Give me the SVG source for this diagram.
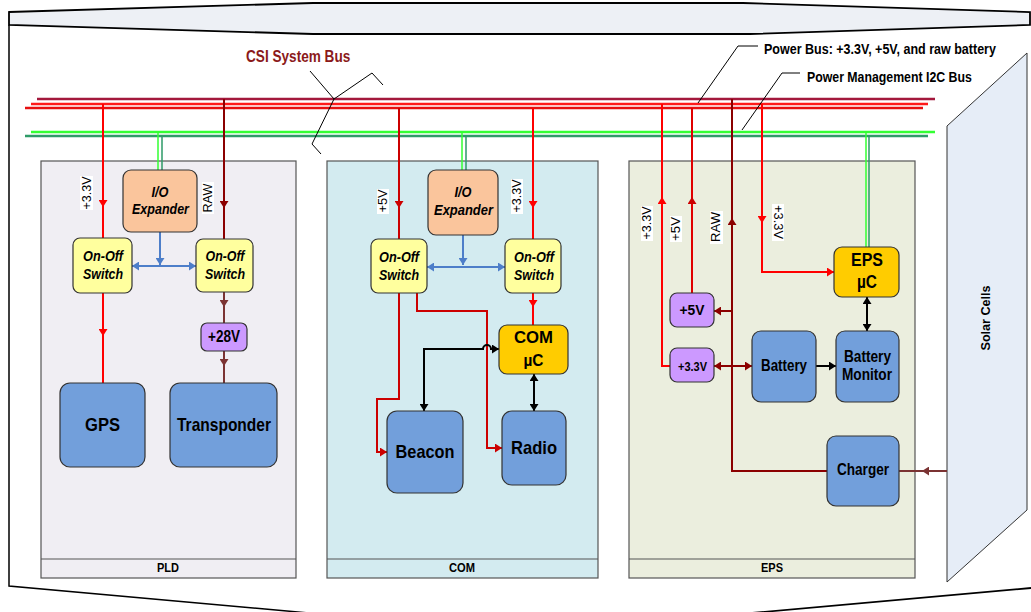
<svg xmlns="http://www.w3.org/2000/svg" width="1031" height="612" viewBox="0 0 1031 612">
<style>
.t{font-family:"Liberation Sans",Arial,sans-serif;font-weight:bold;fill:#000;text-anchor:middle}
.ts{font-family:"Liberation Sans",Arial,sans-serif;font-weight:bold;fill:#000;text-anchor:start}
.ti{font-style:italic}
.lbl{font-family:"Liberation Sans",Arial,sans-serif;font-size:12px;fill:#000;text-anchor:middle}
.panel{stroke:#555;stroke-width:1.2}
.nd{stroke:#333;stroke-width:1.2}
.peach{fill:#FAC59C}
.yel{fill:#FFFF9E}
.pur{fill:#CC99FF}
.blu{fill:#729FDB}
.gold{fill:#FFCC00}
.ln{fill:none;stroke-width:2}
.bus{fill:none;stroke-width:2.6}
.lead{fill:none;stroke:#000;stroke-width:1}
.wbg{fill:#fff}
</style>
<defs>
<marker id="aR" viewBox="0 0 7 9" refX="7" refY="4.5" markerWidth="7" markerHeight="9" markerUnits="userSpaceOnUse" orient="auto-start-reverse"><path d="M0,0 L7,4.5 L0,9 z" fill="#FF0000"/></marker>
<marker id="aD" viewBox="0 0 7 9" refX="7" refY="4.5" markerWidth="7" markerHeight="9" markerUnits="userSpaceOnUse" orient="auto-start-reverse"><path d="M0,0 L7,4.5 L0,9 z" fill="#CC0000"/></marker>
<marker id="aM" viewBox="0 0 7 9" refX="7" refY="4.5" markerWidth="7" markerHeight="9" markerUnits="userSpaceOnUse" orient="auto-start-reverse"><path d="M0,0 L7,4.5 L0,9 z" fill="#8B0000"/></marker>
<marker id="aBr" viewBox="0 0 7 9" refX="7" refY="4.5" markerWidth="7" markerHeight="9" markerUnits="userSpaceOnUse" orient="auto-start-reverse"><path d="M0,0 L7,4.5 L0,9 z" fill="#7B3333"/></marker>
<marker id="aB" viewBox="0 0 7 9" refX="7" refY="4.5" markerWidth="7" markerHeight="9" markerUnits="userSpaceOnUse" orient="auto-start-reverse"><path d="M0,0 L7,4.5 L0,9 z" fill="#4D7EC9"/></marker>
<marker id="aK" viewBox="0 0 7 9" refX="7" refY="4.5" markerWidth="7" markerHeight="9" markerUnits="userSpaceOnUse" orient="auto-start-reverse"><path d="M0,0 L7,4.5 L0,9 z" fill="#000"/></marker>
</defs>
<rect width="1031" height="612" fill="#fff"/>
<g id="frame">
<path d="M9,12 L313,3 L743,3 L1030,12 L1030,25 L750,34 L313,34 L9,25 Z" fill="#EDF0F5" stroke="#000" stroke-width="1.8"/>
<path d="M9,25 V586 L320,614" fill="none" stroke="#000" stroke-width="1.5"/>
<path d="M740,614 L1031,588" fill="none" stroke="#000" stroke-width="1.8"/>
</g>
<g id="solar-cells">
<path d="M947,126 L1027,53 L1027,510 L947,582 Z" fill="#E6EDF7" stroke="#333" stroke-width="1"/>
<text class="t" font-size="12" transform="translate(986,318) rotate(-90)" x="0" y="4" textLength="65" lengthAdjust="spacingAndGlyphs">Solar Cells</text>
</g>
<g id="pld">
<rect class="panel" x="41" y="161" width="255" height="417" fill="#F0EEF3"/>
<line x1="41" y1="559" x2="296" y2="559" stroke="#555" stroke-width="1.2"/>
<text class="t" font-size="12" x="168" y="572" textLength="22" lengthAdjust="spacingAndGlyphs">PLD</text>
</g>
<g id="com">
<rect class="panel" x="327" y="161" width="271" height="417" fill="#D3EBF0"/>
<line x1="327" y1="559" x2="598" y2="559" stroke="#555" stroke-width="1.2"/>
<text class="t" font-size="12" x="462" y="572" textLength="26" lengthAdjust="spacingAndGlyphs">COM</text>
</g>
<g id="eps">
<rect class="panel" x="629" y="161" width="286" height="417" fill="#EBEEDE"/>
<line x1="629" y1="559" x2="915" y2="559" stroke="#555" stroke-width="1.2"/>
<text class="t" font-size="12" x="772" y="572" textLength="22" lengthAdjust="spacingAndGlyphs">EPS</text>
</g>
<g id="connectors">
<path class="bus" d="M37,99 H935" stroke="#A3183C"/>
<path class="bus" d="M31,104 H928" stroke="#FF1A1A"/>
<path class="bus" d="M25,108 H923" stroke="#E61010"/>
<path class="bus" d="M31,132 H935" stroke="#33FF33"/>
<path class="bus" d="M25,136 H928" stroke="#2E9B68"/>
<path d="M158,132 V170 M462,132 V170 M866,132 V247" fill="none" stroke="#33FF33" stroke-width="1.5"/>
<path d="M162,136 V170 M466,136 V170 M869,136 V247" fill="none" stroke="#2E9B68" stroke-width="1.5"/>
<path class="lead" d="M310,71 L334,99" stroke-width="1.6"/>
<path class="lead" d="M334,99 L372,73 L383,85"/>
<path class="lead" d="M334,99 L312,144 L321,154"/>
<path class="lead" d="M758,46 H738 L698,103"/>
<path class="lead" d="M800,73 H782 L742,130"/>
<path class="ln" d="M103,104 V238" stroke="#FF0000"/>
<path class="ln" d="M103,205 V207" stroke="#FF0000" marker-end="url(#aR)"/>
<path class="ln" d="M103,293 V383" stroke="#FF0000"/>
<path class="ln" d="M103,334 V336" stroke="#FF0000" marker-end="url(#aR)"/>
<path class="ln" d="M224,99 V239" stroke="#8B0000"/>
<path class="ln" d="M224,206 V208" stroke="#8B0000" marker-end="url(#aM)"/>
<path class="ln" d="M224,292 V323" stroke="#7B3333"/>
<path class="ln" d="M224,305 V307" stroke="#7B3333" marker-end="url(#aBr)"/>
<path class="ln" d="M224,351 V383" stroke="#7B3333"/>
<path class="ln" d="M224,364 V366" stroke="#7B3333" marker-end="url(#aBr)"/>
<path class="ln" d="M160,232 V265" stroke="#4D7EC9" marker-end="url(#aB)"/>
<path class="ln" d="M132,266 H196" stroke="#4D7EC9" marker-start="url(#aB)" marker-end="url(#aB)"/>
<path class="ln" d="M399,108 V239" stroke="#CC0000"/>
<path class="ln" d="M399,206 V208" stroke="#CC0000" marker-end="url(#aD)"/>
<path class="ln" d="M533,108 V239" stroke="#FF0000"/>
<path class="ln" d="M533,206 V208" stroke="#FF0000" marker-end="url(#aR)"/>
<path class="ln" d="M533,293 V325" stroke="#FF0000"/>
<path class="ln" d="M533,305 V307" stroke="#FF0000" marker-end="url(#aR)"/>
<path class="ln" d="M399,293 V399 H377 V452 H387" stroke="#CC0000" marker-end="url(#aD)"/>
<path class="ln" d="M417,293 V311 H487 V448 H502" stroke="#CC0000" marker-end="url(#aD)"/>
<path class="ln" d="M463,235 V265" stroke="#4D7EC9" marker-end="url(#aB)"/>
<path class="ln" d="M427,267 H505" stroke="#4D7EC9" marker-start="url(#aB)" marker-end="url(#aB)"/>
<path class="ln" d="M424,411 V349 H483 A4,4 0 0 1 491,349 H499" stroke="#000" stroke-width="1.5" marker-start="url(#aK)" marker-end="url(#aK)"/>
<path class="ln" d="M534,374 V411" stroke="#000" stroke-width="1.5" marker-start="url(#aK)" marker-end="url(#aK)"/>
<path class="ln" d="M662,104 V366 H670" stroke="#FF0000"/>
<path class="ln" d="M662,199 V197" stroke="#FF0000" marker-end="url(#aR)"/>
<path class="ln" d="M692,108 V293" stroke="#E00000"/>
<path class="ln" d="M692,199 V197" stroke="#E00000" marker-end="url(#aD)"/>
<path class="ln" d="M732,99 V471 H827" stroke="#8B0000"/>
<path class="ln" d="M732,220 V218" stroke="#8B0000" marker-end="url(#aM)"/>
<path class="ln" d="M732,311 H714" stroke="#8B0000" marker-end="url(#aM)"/>
<path class="ln" d="M714,366 H752" stroke="#8B0000" marker-start="url(#aM)" marker-end="url(#aM)"/>
<path class="ln" d="M762,104 V272 H834" stroke="#FF0000" marker-end="url(#aR)"/>
<path class="ln" d="M762,221 V223" stroke="#FF0000" marker-end="url(#aR)"/>
<path class="ln" d="M867,297 V331" stroke="#000" stroke-width="1.5" marker-start="url(#aK)" marker-end="url(#aK)"/>
<path class="ln" d="M816,366 H836" stroke="#000" stroke-width="1.2" marker-end="url(#aK)"/>
<path class="ln" d="M947,471 H899" stroke="#7B3333"/>
<path class="ln" d="M924,471 H922" stroke="#7B3333" marker-end="url(#aBr)"/>
<rect class="wbg" x="80" y="176" width="13" height="34"/>
<text class="lbl" transform="translate(87,193) rotate(-90)" x="0" y="4" textLength="33" lengthAdjust="spacingAndGlyphs">+3.3V</text>
<rect class="wbg" x="202" y="182" width="12" height="32"/>
<text class="lbl" transform="translate(208,198) rotate(-90)" x="0" y="4" textLength="29" lengthAdjust="spacingAndGlyphs">RAW</text>
<rect class="wbg" x="377" y="189" width="12" height="25"/>
<text class="lbl" transform="translate(383,201) rotate(-90)" x="0" y="4" textLength="23" lengthAdjust="spacingAndGlyphs">+5V</text>
<rect class="wbg" x="511" y="179" width="12" height="35"/>
<text class="lbl" transform="translate(517,196) rotate(-90)" x="0" y="4" textLength="33" lengthAdjust="spacingAndGlyphs">+3.3V</text>
<rect class="wbg" x="641" y="206" width="12" height="35"/>
<text class="lbl" transform="translate(647,223) rotate(-90)" x="0" y="4" textLength="33" lengthAdjust="spacingAndGlyphs">+3.3V</text>
<rect class="wbg" x="670" y="216" width="12" height="26"/>
<text class="lbl" transform="translate(676,229) rotate(-90)" x="0" y="4" textLength="24" lengthAdjust="spacingAndGlyphs">+5V</text>
<rect class="wbg" x="710" y="211" width="13" height="33"/>
<text class="lbl" transform="translate(716,227) rotate(-90)" x="0" y="4" textLength="30" lengthAdjust="spacingAndGlyphs">RAW</text>
<rect class="wbg" x="772" y="204" width="12" height="37"/>
<text class="lbl" transform="translate(778,222) rotate(90)" x="0" y="4" textLength="34" lengthAdjust="spacingAndGlyphs">+3.3V</text>
</g>
<g id="bus-labels">
<text class="ts" font-size="16.5" transform="translate(246,62) scale(0.825,1)" x="0" y="0" style="fill:#8B1A1A">CSI System Bus</text>
<text class="ts" font-size="15" transform="translate(764,54) scale(0.835,1)" x="0" y="0">Power Bus: +3.3V, +5V, and raw battery</text>
<text class="ts" font-size="14.5" transform="translate(807,82) scale(0.85,1)" x="0" y="0">Power Management I2C Bus</text>
</g>
<g id="pld-io-expander">
<rect class="nd peach" x="123" y="170" width="74" height="62" rx="8"/>
<text class="t ti" font-size="14.5" x="160" y="197" textLength="17" lengthAdjust="spacingAndGlyphs">I/O</text>
<text class="t ti" font-size="14.5" x="160.5" y="214" textLength="57" lengthAdjust="spacingAndGlyphs">Expander</text>
</g>
<g id="pld-switch-1">
<rect class="nd yel" x="73" y="238" width="59" height="55" rx="7"/>
<text class="t ti" font-size="14.5" x="103" y="261" textLength="40" lengthAdjust="spacingAndGlyphs">On-Off</text>
<text class="t ti" font-size="14.5" x="103" y="279" textLength="40" lengthAdjust="spacingAndGlyphs">Switch</text>
</g>
<g id="pld-switch-2">
<rect class="nd yel" x="196" y="239" width="57" height="53" rx="7"/>
<text class="t ti" font-size="14.5" x="225" y="261" textLength="39" lengthAdjust="spacingAndGlyphs">On-Off</text>
<text class="t ti" font-size="14.5" x="225" y="279" textLength="40" lengthAdjust="spacingAndGlyphs">Switch</text>
</g>
<g id="pld-28v">
<rect class="nd pur" x="201" y="323" width="46" height="28" rx="6"/>
<text class="t" font-size="16" x="224" y="342" textLength="32" lengthAdjust="spacingAndGlyphs">+28V</text>
</g>
<g id="gps">
<rect class="nd blu" x="60" y="383" width="85" height="84" rx="10"/>
<text class="t" font-size="19" x="102.5" y="431" textLength="35" lengthAdjust="spacingAndGlyphs">GPS</text>
</g>
<g id="transponder">
<rect class="nd blu" x="170" y="383" width="107" height="84" rx="10"/>
<text class="t" font-size="19" x="224" y="431" textLength="94" lengthAdjust="spacingAndGlyphs">Transponder</text>
</g>
<g id="com-io-expander">
<rect class="nd peach" x="428" y="170" width="70" height="65" rx="8"/>
<text class="t ti" font-size="14.5" x="463" y="197" textLength="17" lengthAdjust="spacingAndGlyphs">I/O</text>
<text class="t ti" font-size="14.5" x="463.5" y="215" textLength="59" lengthAdjust="spacingAndGlyphs">Expander</text>
</g>
<g id="com-switch-1">
<rect class="nd yel" x="371" y="239" width="56" height="54" rx="7"/>
<text class="t ti" font-size="14.5" x="399" y="262" textLength="40" lengthAdjust="spacingAndGlyphs">On-Off</text>
<text class="t ti" font-size="14.5" x="399" y="280" textLength="40" lengthAdjust="spacingAndGlyphs">Switch</text>
</g>
<g id="com-switch-2">
<rect class="nd yel" x="505" y="239" width="56" height="54" rx="7"/>
<text class="t ti" font-size="14.5" x="534" y="262" textLength="40" lengthAdjust="spacingAndGlyphs">On-Off</text>
<text class="t ti" font-size="14.5" x="534" y="280" textLength="40" lengthAdjust="spacingAndGlyphs">Switch</text>
</g>
<g id="com-uc">
<rect class="nd gold" x="499" y="325" width="69" height="49" rx="8"/>
<text class="t" font-size="17" x="533.5" y="343" textLength="39" lengthAdjust="spacingAndGlyphs">COM</text>
<text class="t" font-size="17" x="533.5" y="366" textLength="20" lengthAdjust="spacingAndGlyphs">µC</text>
</g>
<g id="beacon">
<rect class="nd blu" x="387" y="411" width="76" height="82" rx="10"/>
<text class="t" font-size="19" x="425" y="458" textLength="59" lengthAdjust="spacingAndGlyphs">Beacon</text>
</g>
<g id="radio">
<rect class="nd blu" x="502" y="411" width="64" height="74" rx="10"/>
<text class="t" font-size="19" x="534" y="454" textLength="46" lengthAdjust="spacingAndGlyphs">Radio</text>
</g>
<g id="eps-uc">
<rect class="nd gold" x="834" y="247" width="65" height="50" rx="8"/>
<text class="t" font-size="18" x="867" y="266" textLength="32" lengthAdjust="spacingAndGlyphs">EPS</text>
<text class="t" font-size="18" x="867" y="288" textLength="20" lengthAdjust="spacingAndGlyphs">µC</text>
</g>
<g id="eps-5v">
<rect class="nd pur" x="670" y="293" width="44" height="34" rx="7"/>
<text class="t" font-size="15" x="692" y="315" textLength="25" lengthAdjust="spacingAndGlyphs">+5V</text>
</g>
<g id="eps-3v3">
<rect class="nd pur" x="670" y="348" width="44" height="34" rx="7"/>
<text class="t" font-size="13" x="692.5" y="371" textLength="29" lengthAdjust="spacingAndGlyphs">+3.3V</text>
</g>
<g id="battery">
<rect class="nd blu" x="752" y="331" width="64" height="71" rx="9"/>
<text class="t" font-size="16" x="784" y="371" textLength="46" lengthAdjust="spacingAndGlyphs">Battery</text>
</g>
<g id="battery-monitor">
<rect class="nd blu" x="836" y="331" width="63" height="71" rx="9"/>
<text class="t" font-size="16" x="867.5" y="362" textLength="47" lengthAdjust="spacingAndGlyphs">Battery</text>
<text class="t" font-size="16" x="867" y="380" textLength="50" lengthAdjust="spacingAndGlyphs">Monitor</text>
</g>
<g id="charger">
<rect class="nd blu" x="827" y="436" width="72" height="70" rx="9"/>
<text class="t" font-size="16" x="863" y="475" textLength="52" lengthAdjust="spacingAndGlyphs">Charger</text>
</g>
</svg>
